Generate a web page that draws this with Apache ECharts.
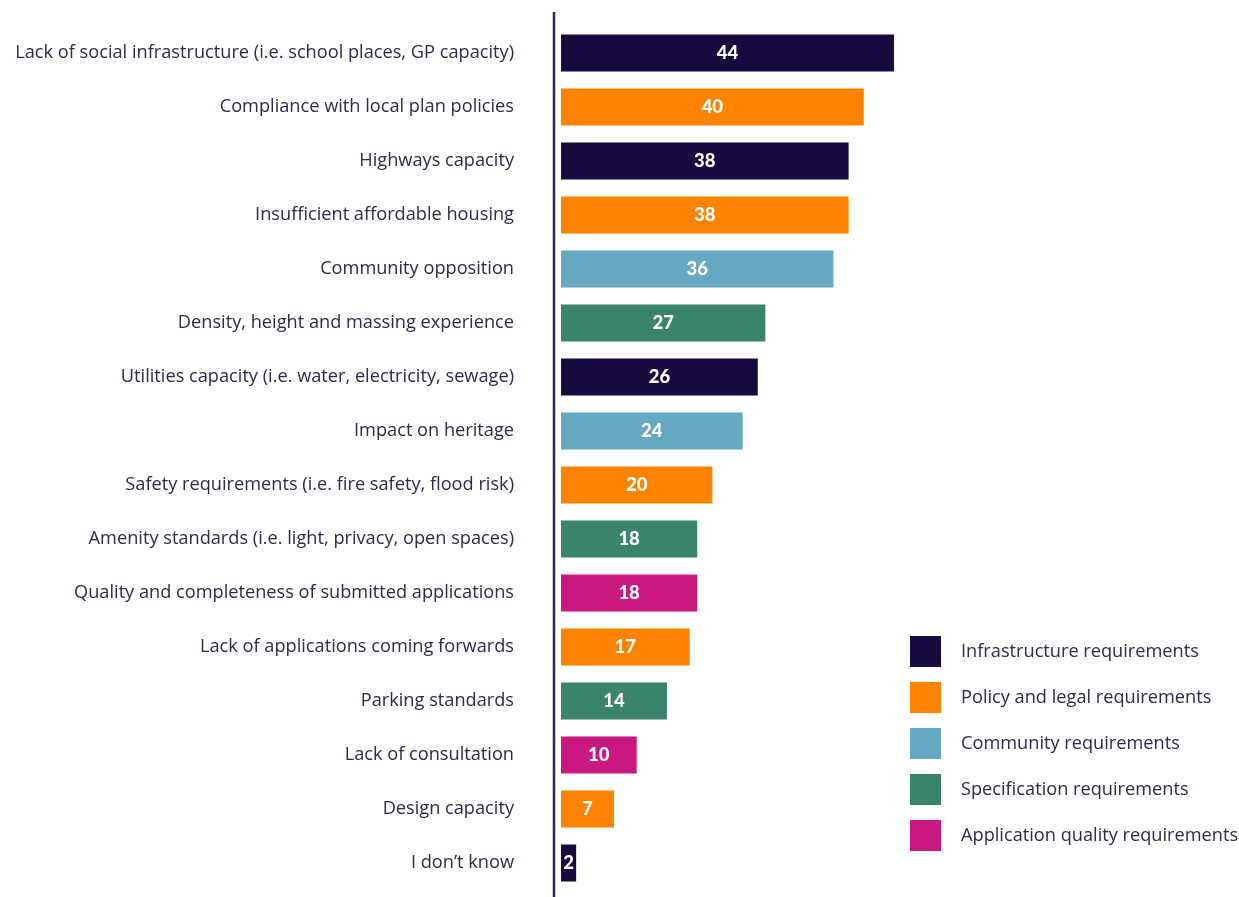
<!DOCTYPE html>
<html>
<head>
<meta charset="utf-8">
<script src="https://cdn.jsdelivr.net/npm/echarts@6/dist/echarts.min.js"></script>
<style>html,body{margin:0;padding:0;background:#fff;}#chart{width:1239px;height:897px;}</style>
</head>
<body>
<div id="chart"></div>
<script>
const categories = [
  "Lack of social infrastructure (i.e. school places, GP capacity)",
  "Compliance with local plan policies",
  "Highways capacity",
  "Insufficient affordable housing",
  "Community opposition",
  "Density, height and massing experience",
  "Utilities capacity (i.e. water, electricity, sewage)",
  "Impact on heritage",
  "Safety requirements (i.e. fire safety, flood risk)",
  "Amenity standards (i.e. light, privacy, open spaces)",
  "Quality and completeness of submitted applications",
  "Lack of applications coming forwards",
  "Parking standards",
  "Lack of consultation",
  "Design capacity",
  "I don\u2019t know"
];
const values = [44, 40, 38, 38, 36, 27, 26, 24, 20, 18, 18, 17, 14, 10, 7, 2];
const groupOf = [0, 1, 0, 1, 2, 3, 0, 2, 1, 3, 4, 1, 3, 4, 1, 0];
const groupNames = [
  "Infrastructure requirements",
  "Policy and legal requirements",
  "Community requirements",
  "Specification requirements",
  "Application quality requirements"
];
const groupColors = ["#170A3E", "#FF8300", "#64A8C2", "#3A846E", "#C9187F"];

const textColor = "#2d2a4a";
const textFont = "Open Sans";
const series = groupNames.map((name, g) => ({
  name: name,
  type: "bar",
  stack: "all",
  barWidth: 37,
  itemStyle: { color: groupColors[g] },
  label: {
    show: true,
    position: "inside",
    color: "#ffffff",
    fontFamily: "Lato",
    fontWeight: 900,
    fontSize: 18.5,
    formatter: p => p.value
  },
  data: values.map((v, i) => groupOf[i] === g ? v : "-")
}));

const chart = echarts.init(document.getElementById("chart"));
chart.setOption({
  animation: false,
  backgroundColor: "#ffffff",
  grid: { left: 561, top: 26, width: 333, height: 864, containLabel: false },
  xAxis: {
    type: "value", min: 0, max: 44, show: false
  },
  yAxis: {
    type: "category",
    data: categories,
    inverse: true,
    axisLine: { show: false },
    axisTick: { show: false },
    axisLabel: {
      margin: 47,
      color: textColor,
      fontFamily: textFont,
      fontSize: 18.2
    }
  },
  legend: {
    orient: "vertical",
    left: 905,
    top: 631,
    itemWidth: 31,
    itemHeight: 31,
    itemGap: 15,
    icon: "rect",
    textStyle: { color: textColor, fontFamily: textFont, fontSize: 18.2, padding: [0, 0, 0, 15] },
    data: groupNames
  },
  graphic: [{
    type: "line",
    shape: { x1: 554, y1: 12, x2: 554, y2: 897 },
    style: { stroke: "#2d2658", lineWidth: 2.5 }
  }],
  series: series
});
</script>
</body>
</html>
